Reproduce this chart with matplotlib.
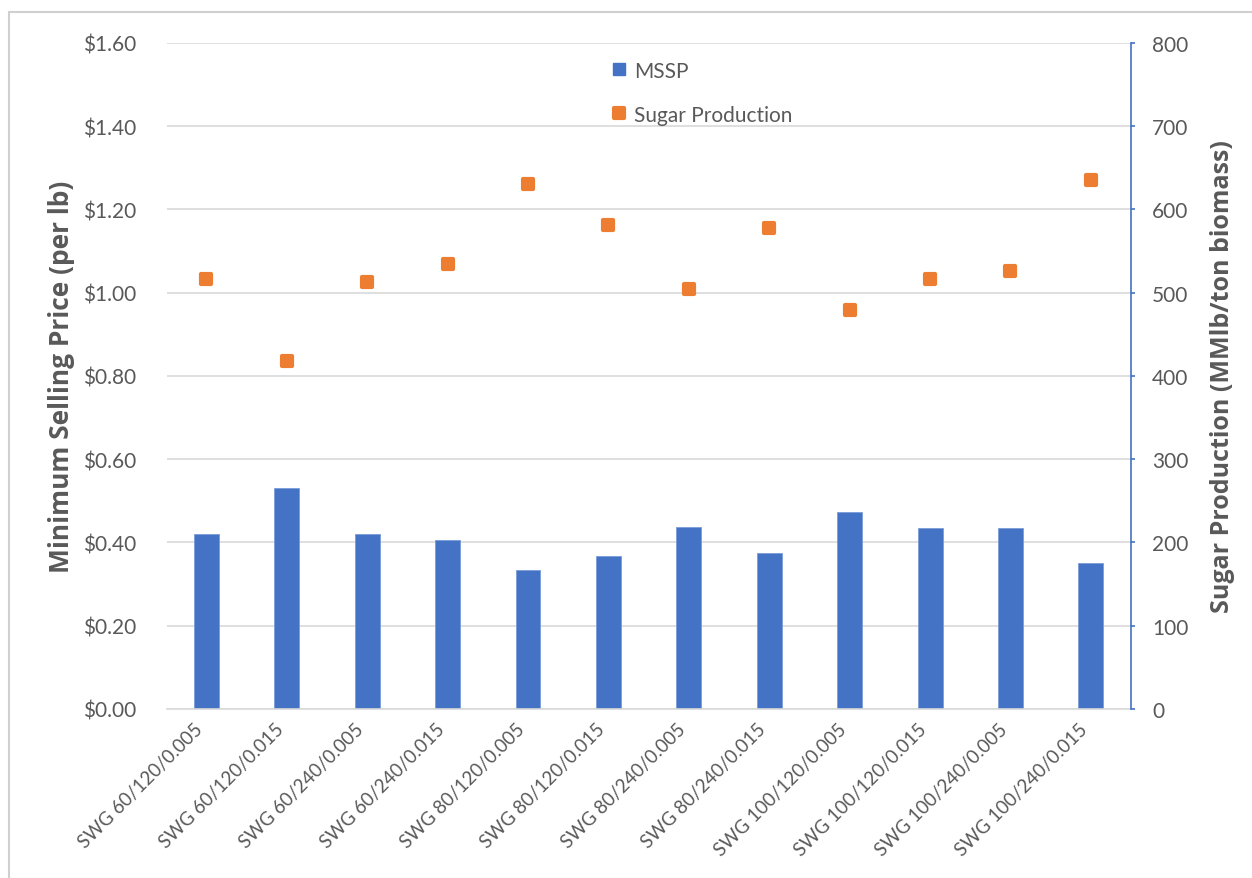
import matplotlib.pyplot as plt
from matplotlib.markers import MarkerStyle
from matplotlib.lines import Line2D
from matplotlib.patches import Rectangle
from matplotlib.ticker import FuncFormatter

plt.rcParams['font.family'] = ['Lato', 'DejaVu Sans']

# Switchgrass pretreatment cases (temp / time / acid loading)
cases = ["SWG 60/120/0.005", "SWG 60/120/0.015", "SWG 60/240/0.005", "SWG 60/240/0.015",
         "SWG 80/120/0.005", "SWG 80/120/0.015", "SWG 80/240/0.005", "SWG 80/240/0.015",
         "SWG 100/120/0.005", "SWG 100/120/0.015", "SWG 100/240/0.005", "SWG 100/240/0.015"]
mssp = [0.420, 0.532, 0.420, 0.406, 0.335, 0.368, 0.438, 0.375, 0.472, 0.435, 0.435, 0.350]
sugar = [516, 418, 513, 535, 631, 581, 504, 578, 479, 517, 526, 635]

BLUE = "#4472C4"
ORANGE = "#ED7D31"
GRAY = "#595959"
GRID = "#D9D9D9"

fig = plt.figure(figsize=(12.52, 8.79), dpi=100)
ax = fig.add_axes([0.1334, 0.1923, 0.7700, 0.7577])
ax2 = ax.twinx()

x = list(range(len(cases)))
ax.bar(x, mssp, width=0.31, color=BLUE, edgecolor="#7A9CD8", linewidth=0.6, zorder=2)
ax.set_xlim(-0.49, 11.5)
ax.set_ylim(0, 1.6)
ax.set_yticks([i * 0.2 for i in range(9)])
ax.yaxis.set_major_formatter(FuncFormatter(lambda v, p: f"${v:.2f}"))
ax.grid(axis="y", color=GRID, linewidth=1.2)
ax.set_axisbelow(True)
ax.tick_params(axis="y", length=0, pad=22, labelsize=15, labelcolor=GRAY)
ax.tick_params(axis="x", length=0, pad=8, labelsize=13.5, labelcolor=GRAY)
ax.set_xticks(x)
ax.set_xticklabels(cases, rotation=45, ha="right", va="top")
for s in ["top", "right", "left"]:
    ax.spines[s].set_visible(False)
ax.spines["bottom"].set_color(GRID)
ax.spines["bottom"].set_linewidth(1.2)
ax.set_ylabel("Minimum Selling Price (per lb)", fontsize=19, fontweight="bold",
              family="Open Sans", color=GRAY, labelpad=6)

sq = MarkerStyle("s", joinstyle="round")
ax2.plot(x, sugar, linestyle="none", marker=sq, markersize=7.5, markeredgewidth=3,
         color=ORANGE, markeredgecolor=ORANGE, zorder=3)
ax2.set_ylim(0, 800)
ax2.set_yticks(range(0, 801, 100))
ax2.tick_params(axis="y", length=3, width=1.2, color=BLUE, pad=12, labelsize=15,
                labelcolor=GRAY)
for s in ["top", "left", "bottom"]:
    ax2.spines[s].set_visible(False)
ax2.spines["right"].set_color(BLUE)
ax2.spines["right"].set_linewidth(1.2)
ax2.set_ylabel("Sugar Production (MMlb/ton biomass)", fontsize=18, fontweight="bold",
               family="Open Sans", color=GRAY, labelpad=16)

handles = [
    Line2D([], [], linestyle="none", marker="s", markersize=9, color=BLUE),
    Line2D([], [], linestyle="none", marker=sq, markersize=7.5, markeredgewidth=3,
           color=ORANGE, markeredgecolor=ORANGE),
]
ax2.legend(handles, ["MSSP", "Sugar Production"], loc="upper left",
           bbox_to_anchor=(588 / 1252, 1 - 43 / 879), bbox_transform=fig.transFigure,
           frameon=False, fontsize=15, labelspacing=1.15, handletextpad=0.1,
           handlelength=1.2, labelcolor=GRAY)

# thin frame around the chart area
fig.patches.append(Rectangle((9 / 1252, -0.1), 1.2, 1 - 13 / 879 + 0.1,
                             transform=fig.transFigure, fill=False,
                             edgecolor="#D0D0D0", linewidth=1.5))

fig.savefig("out.png", dpi=100)
